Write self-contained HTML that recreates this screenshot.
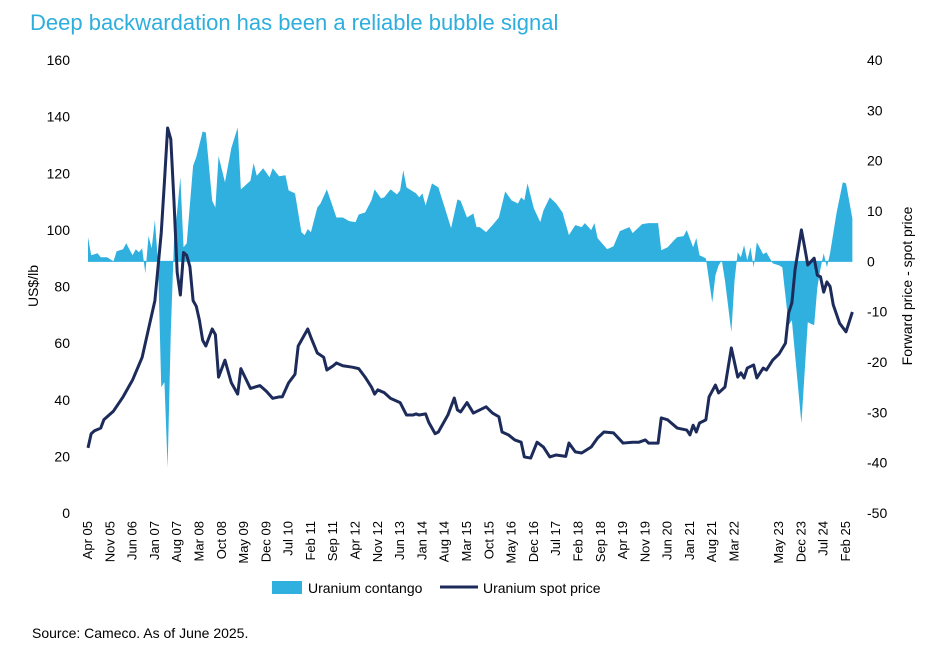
<!DOCTYPE html>
<html><head><meta charset="utf-8"><style>
html,body{margin:0;padding:0;background:#fff;}
body{width:937px;height:656px;overflow:hidden;font-family:"Liberation Sans",sans-serif;}
</style></head><body>
<svg id="chart" width="937" height="656" xmlns="http://www.w3.org/2000/svg" font-family="Liberation Sans, sans-serif">
<text x="30" y="30" font-size="22" fill="#2eaedd">Deep backwardation has been a reliable bubble signal</text>
<g id="yl"></g>
<g id="yr"></g>
<g id="xa"></g>
<g id="plot"></g>
<text transform="translate(38,286) rotate(-90)" text-anchor="middle" font-size="14" fill="#000">US$/lb</text>
<text transform="translate(912,286) rotate(-90)" text-anchor="middle" font-size="14" fill="#000">Forward price - spot price</text>
<g>
<rect x="272" y="581" width="30" height="13" fill="#30b0de"/>
<text x="308" y="593" font-size="14">Uranium contango</text>
<line x1="440" y1="587" x2="478" y2="587" stroke="#1c2b5a" stroke-width="3"/>
<text x="483" y="593" font-size="14">Uranium spot price</text>
</g>
<text x="32" y="638" font-size="14">Source: Cameco. As of June 2025.</text>
</svg>
<script>
const xLabels=["Apr 05","Nov 05","Jun 06","Jan 07","Aug 07","Mar 08","Oct 08","May 09","Dec 09","Jul 10","Feb 11","Sep 11","Apr 12","Nov 12","Jun 13","Jan 14","Aug 14","Mar 15","Oct 15","May 16","Dec 16","Jul 17","Feb 18","Sep 18","Apr 19","Nov 19","Jun 20","Jan 21","Aug 21","Mar 22","","May 23","Dec 23","Jul 24","Feb 25"];
const leftTicks=[0,20,40,60,80,100,120,140,160];
const rightTicks=[-50,-40,-30,-20,-10,0,10,20,30,40];
const spotMonths=[0,1,2,4,5,8,11,14,17,19,21,23,24,25,26,27,28,29,30,31,32,33,34,35,36,37,39,40,41,43,45,47,48,51,54,56,58,60,61,63,65,66,69,70,72,74,75,77,78,80,83,85,87,89,90,91,93,95,98,100,102,103,104,106,107,109,110,113,115,116,117,119,121,123,125,127,129,130,132,134,136,137,139,141,143,145,147,150,151,153,155,158,160,162,165,168,171,173,175,176,179,180,182,185,188,189,190,191,192,194,195,197,198,200,202,204,205,206,207,209,210,212,213,215,217,219,220,221,222,224,225,226,228,229,230,231,232,233,234,236,238,240];
const spotValues=[23,28,29,30,33,36,41,47,55,65,75,99,117,136,132,110,85,77,92,91,87,75,73,68,61,59,65,63,48,54,46,42,51,44,45,43,40.5,41,41,46,49,59,65,62,56.5,55,50.5,52,53,52,51.5,51,48,44.5,42,43.5,42.5,40.5,39,34.6,34.6,35,34.6,35,32,28,28.6,34.6,40.6,36.4,35.7,39,35.3,36.4,37.5,35.3,34,28.6,27.6,25.8,25,19.8,19.4,25,23.3,19.8,20.5,20,24.7,21.6,21.2,23.3,26.5,28.6,28.3,24.7,25,25,25.8,24.7,24.7,33.6,32.9,30,29.3,27.6,31,28.6,31.8,32.9,41,45.2,42.4,44.5,58.3,48,49.5,47.7,51.2,52.3,47.7,51.2,50.5,54,56.2,60,70.7,74.2,85.9,100,94,87.6,90,84,83.4,78,81.6,80,73.5,67,64,71];
const contMonths=[0,1,3,4,6,8,9,11,12,14,15,16,17,18,19,20,21,22,23,24,25,26,27,28,29,30,31,33,34,36,37,39,40,41,43,45,47,48,51,52,53,55,57,58,60,62,63,65,67,68,69,70,72,73,75,78,80,82,84,85,87,89,90,92,93,95,97,98,99,100,103,104,105,106,108,110,112,114,116,117,119,121,122,123,125,127,129,131,133,135,136,137,138,140,142,143,145,147,149,151,153,155,156,158,159,160,163,165,167,170,171,174,176,179,180,182,184,185,187,188,190,191,192,194,196,197,198,199,200,202,203,204,205,206,207,208,209,210,212,213,215,217,218,220,221,224,226,228,229,230,231,232,233,235,237,238,240];
const contValues=[4.8,1.2,1.6,0.8,0.8,0,2,2.4,3.6,1.2,2.4,1.8,2.6,-2.4,5,2.6,8.2,-0.4,-25,-24,-41,-14,4,10,16.7,2.8,3.6,19,20.7,25.8,25.6,12,10.7,20.9,15.7,22.5,26.6,14.3,16,19.5,17,18.5,16.7,18.5,16.9,17.1,14.1,13.5,5.8,5.2,6.4,5.8,10.7,11.5,14.3,8.7,8.7,8,7.8,9.3,9.7,12.1,14.3,12.5,12.7,14.3,13.3,14.1,18.1,14.7,13.5,12.7,13.5,11.1,15.5,14.7,10.7,6.6,12.3,12,8.7,9.5,6.8,6.8,5.8,7.2,8.7,13.9,12.1,11.5,12.7,12.1,15.5,10.5,7.8,10.1,12.7,11.5,9.7,5.2,7.2,6.8,7.6,6.2,7.6,4.6,2.4,3,6,6.8,5.6,7.4,7.6,7.6,2.2,2.8,4.2,4.8,5,6.2,2.8,4.6,1.2,0.6,-8.2,-2.8,-0.8,0.2,-3.8,-14.1,-3.8,1.8,0.8,3.2,0.2,2.8,-1.2,3.8,1.4,1.8,-0.4,-0.8,-1.2,-12.7,-11.7,-32.2,-12.1,-12.7,-5.2,-1.4,1.6,-1.2,1.6,9.5,15.7,15.5,8.5];

const NS="http://www.w3.org/2000/svg";
const X0=88,X1=846,MSPAN=238;
function xs(m){return X0+m*(X1-X0)/MSPAN;}
function yL(v){return 513-v*(513-60)/160;}
function yR(v){return 60+(40-v)*(513-60)/90;}
function mk(tag,attrs,parent){const e=document.createElementNS(NS,tag);for(const k in attrs)e.setAttribute(k,attrs[k]);parent.appendChild(e);return e;}

const yl=document.getElementById('yl'),yr=document.getElementById('yr'),xa=document.getElementById('xa'),plot=document.getElementById('plot');
leftTicks.forEach(v=>{const t=mk('text',{x:70,y:yL(v)+5,'text-anchor':'end','font-size':14},yl);t.textContent=v;

});
rightTicks.forEach(v=>{const t=mk('text',{x:867,y:yR(v)+5,'text-anchor':'start','font-size':14},yr);t.textContent=v;

});
xLabels.forEach((l,i)=>{if(!l)return;const x=xs(i*7)+4;const t=mk('text',{transform:`translate(${x},521) rotate(-90)`,'text-anchor':'end','font-size':13},xa);t.textContent=l;

});

// contango area
let pts=[xs(contMonths[0])+','+yR(0)];
contMonths.forEach((m,i)=>pts.push(xs(m)+','+yR(contValues[i])));
pts.push(xs(contMonths[contMonths.length-1])+','+yR(0));
const area=mk('polygon',{points:pts.join(' '),fill:'#30b0de'},plot);


const zl=mk('line',{x1:xs(0),x2:xs(240),y1:yR(0),y2:yR(0),stroke:'#30b0de','stroke-width':1},plot);


// spot line
const lp=spotMonths.map((m,i)=>xs(m)+','+yL(spotValues[i])).join(' ');
const line=mk('polyline',{points:lp,fill:'none',stroke:'#1c2b5a','stroke-width':3,'stroke-linejoin':'round'},plot);


</script>
</body></html>
